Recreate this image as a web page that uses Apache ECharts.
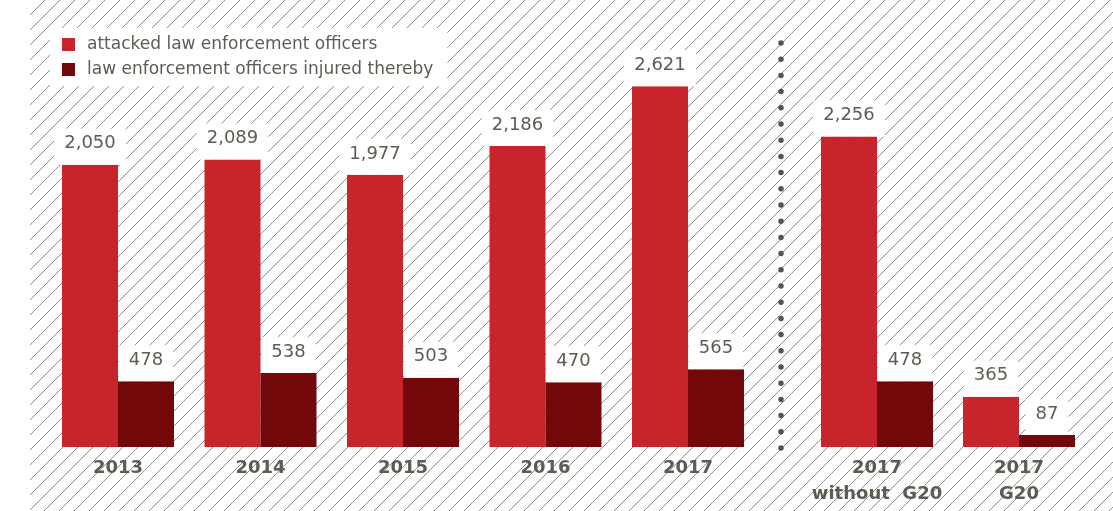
<!DOCTYPE html>
<html>
<head>
<meta charset="utf-8">
<script src="https://cdn.jsdelivr.net/npm/echarts@6/dist/echarts.min.js"></script>
<style>html,body{margin:0;padding:0;background:#fff}#c{width:1113px;height:511px}</style>
</head>
<body>
<div id="c"></div>
<script>
const categories = ['2013', '2014', '2015', '2016', '2017'];
const g20Categories = ['2017\nwithout  G20', '2017\nG20'];
const attacked = [2050, 2089, 1977, 2186, 2621];
const injured = [478, 538, 503, 470, 565];
const attackedG20 = [2256, 365];
const injuredG20 = [478, 87];
const seriesNames = ['attacked law enforcement officers', 'law enforcement officers injured thereby'];

const RED = '#c8242c', DARK = '#73080a', TEXT = '#5e5c52';
const FONT = '"DejaVu Sans", sans-serif';

// hatch tile
const tile = document.createElement('canvas');
tile.width = 15; tile.height = 15;
const tc = tile.getContext('2d');
tc.strokeStyle = '#8e8e8e'; tc.lineWidth = 1;
tc.beginPath();
tc.moveTo(-2, 17); tc.lineTo(17, -2);
tc.moveTo(-6, 6); tc.lineTo(6, -6);
tc.moveTo(9, 21); tc.lineTo(21, 9);
tc.stroke();

const chart = echarts.init(document.getElementById('c'), null, {renderer: 'canvas'});

const valueLabel = {
  show: true, position: 'top', distance: 0,
  color: TEXT, fontFamily: FONT, fontSize: 18,
  backgroundColor: '#fff', padding: [6, 10, 12, 10],
  formatter: p => p.value.toLocaleString('en-US')
};
const xLabel = {
  color: TEXT, fontFamily: FONT, fontSize: 18, fontWeight: 'bold',
  lineHeight: 26, margin: 8, interval: 0
};
function mkX(gi, data) {
  return {type: 'category', gridIndex: gi, data: data,
    axisLine: {show: false}, axisTick: {show: false}, axisLabel: xLabel};
}
function mkY(gi) {
  return {type: 'value', gridIndex: gi, min: 0, max: 3000, show: false, splitLine: {show: false}};
}
function mkBar(name, data, color, gi) {
  return {type: 'bar', name: name, data: data, xAxisIndex: gi, yAxisIndex: gi,
    barWidth: 56, barGap: '0%', itemStyle: {color: color}, label: valueLabel, z: 3};
}

chart.setOption({
  animation: false,
  backgroundColor: '#fff',
  grid: [
    {left: 46.75, right: 353.75, top: 34, bottom: 64},
    {left: 806, right: 23, top: 34, bottom: 64}
  ],
  xAxis: [mkX(0, categories), mkX(1, g20Categories)],
  yAxis: [mkY(0), mkY(1)],
  legend: {
    orient: 'vertical', left: 50, top: 28,
    backgroundColor: '#fff', padding: [8, 14, 8, 12],
    itemWidth: 13, itemHeight: 13, itemGap: 8,
    icon: 'rect',
    textStyle: {color: TEXT, fontFamily: FONT, fontSize: 17, padding: [0, 0, 0, 7]},
    data: seriesNames
  },
  graphic: [
    {type: 'rect', z: -10, silent: true,
      shape: {x: 30, y: 0, width: 1083, height: 511},
      style: {fill: {image: tile, repeat: 'repeat'}}},
    {type: 'line', z: 1, silent: true,
      shape: {x1: 781, y1: 43, x2: 781, y2: 449},
      style: {stroke: '#55534a', lineWidth: 5.5, lineCap: 'round', lineDash: [0, 16.2]}}
  ],
  series: [
    mkBar(seriesNames[0], attacked, RED, 0),
    mkBar(seriesNames[1], injured, DARK, 0),
    mkBar(seriesNames[0], attackedG20, RED, 1),
    mkBar(seriesNames[1], injuredG20, DARK, 1)
  ]
});
</script>
</body>
</html>
